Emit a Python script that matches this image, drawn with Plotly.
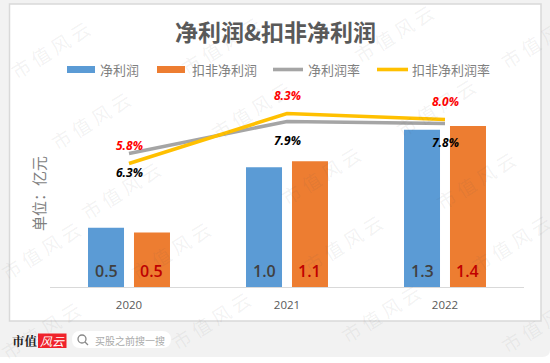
import plotly.graph_objects as go

years = ["2020", "2021", "2022"]
net_profit = [0.49, 0.99, 1.30]
adj_profit = [0.45, 1.04, 1.33]
net_labels = ["0.5", "1.0", "1.3"]
adj_labels = ["0.5", "1.1", "1.4"]
net_margin = [6.3, 7.9, 7.8]
adj_margin = [5.8, 8.3, 8.0]
name_net = "净利润"
name_adj = "扣非净利润"
name_nm = "净利润率"
name_am = "扣非净利润率"
title_text = "净利润&扣非净利润"
axis_title = "单位：亿元"
search_text = "买股之前搜一搜"

BLUE, ORANGE, GRAY, GOLD = "#5b9bd5", "#ed7d31", "#a5a5a5", "#ffc000"
CJK = "Noto Sans CJK SC"
LATIN = "Open Sans, Noto Sans CJK SC"
W, H = 550, 363
ML, MR, MT, MB = 50, 26, 87, 76
PW, PH = W - ML - MR, H - MT - MB
PX = lambda x: (x - ML) / PW
PY = lambda y: (H - MB - y) / PH

fig = go.Figure()
fig.add_bar(x=years, y=net_profit, name=name_net, marker=dict(color=BLUE, line=dict(width=0)), showlegend=False)
fig.add_bar(x=years, y=adj_profit, name=name_adj, marker=dict(color=ORANGE, line=dict(width=0)), showlegend=False)
fig.add_scatter(x=years, y=net_margin, name=name_nm, mode="lines", yaxis="y2", showlegend=False,
                line=dict(color=GRAY, width=3.6))
fig.add_scatter(x=years, y=adj_margin, name=name_am, mode="lines", yaxis="y2", showlegend=False,
                line=dict(color=GOLD, width=3.6))

shapes, ann = [], []


def rect(x0, y0, x1, y1, fill, line=None, lw=0):
    shapes.append(dict(type="rect", xref="paper", yref="paper", x0=PX(x0), x1=PX(x1), y0=PY(y0), y1=PY(y1),
                       fillcolor=fill, line=dict(color=line or fill, width=lw), layer="below"))


def text(x, y, s, size, color, anchor="center", bold=False, angle=0, family=CJK, italic=False):
    t = f"<b>{s}</b>" if bold else s
    t = f"<i>{t}</i>" if italic else t
    ann.append(dict(xref="paper", yref="paper", x=PX(x), y=PY(y), text=t, showarrow=False, xanchor=anchor,
                    yanchor="middle", textangle=angle, font=dict(size=size, color=color, family=family)))


# page background and chart card
shapes.append(dict(type="path", xref="paper", yref="paper", layer="below", fillcolor="#f2f2f2", line=dict(width=0),
                   path=f"M{PX(0)},{PY(0)} L{PX(W)},{PY(0)} L{PX(W)},{PY(350)} Q{PX(W)},{PY(357)} {PX(542)},{PY(357)} "
                        f"L{PX(0)},{PY(357)} Z"))
rect(9.5, 4, 541, 321, "#ffffff", "#d9d9d9", 1.5)

# title and axis title
text(275, 31, title_text, 23, "#595959", bold=True)
text(38, 194, axis_title, 15, "#7f7f7f", angle=-90)

# legend
rect(67, 66, 95, 73, BLUE)
text(98, 69.5, name_net, 13, "#7f7f7f", "left")
rect(157, 66, 185, 73, ORANGE)
text(190, 69.5, name_adj, 13, "#7f7f7f", "left")
for x0, x1, c in [(273, 303, GRAY), (377, 408, GOLD)]:
    shapes.append(dict(type="line", xref="paper", yref="paper", x0=PX(x0), x1=PX(x1), y0=PY(69.5), y1=PY(69.5),
                       line=dict(color=c, width=3.6), layer="below"))
text(306, 69.5, name_nm, 13, "#7f7f7f", "left")
text(410, 69.5, name_am, 13, "#7f7f7f", "left")

# bar labels and rate labels (category axis positions are given by index)
for i in range(len(years)):
    ann.append(dict(x=i, y=0, xref="x", yref="y", yshift=16, xshift=-23, text=net_labels[i], showarrow=False,
                    font=dict(size=16, color="#404040", family=LATIN, weight=600)))
    ann.append(dict(x=i, y=0, xref="x", yref="y", yshift=16, xshift=22, text=adj_labels[i], showarrow=False,
                    font=dict(size=16, color="#c00000", family=LATIN, weight=600)))
    ann.append(dict(x=i, y=adj_margin[i], xref="x", yref="y2", showarrow=False, yshift=18,
                    text=f"<b><i>{adj_margin[i]:.1f}%</i></b>",
                    font=dict(size=12, color="#ff0000", family=LATIN)))
    ann.append(dict(x=i, y=net_margin[i], xref="x", yref="y2", showarrow=False, yshift=-19,
                    text=f"<b><i>{net_margin[i]:.1f}%</i></b>",
                    font=dict(size=12, color="#000000", family=LATIN)))

# footer
text(10, 340.5, "市值", 12.5, "#222222", "left", bold=True, family="Noto Serif CJK SC, Liberation Serif, Noto Sans CJK SC")
rect(38, 333.5, 66.5, 348, "#f0222b")
text(52, 340.5, "风云", 12, "#ffffff", italic=True)
shapes.append(dict(type="path", xref="paper", yref="paper", layer="below", fillcolor="#ffffff", line=dict(width=0),
                   path=f"M{PX(80)},{PY(331)} L{PX(162)},{PY(331)} Q{PX(171)},{PY(331)} {PX(171)},{PY(339.5)} "
                        f"Q{PX(171)},{PY(348)} {PX(162)},{PY(348)} L{PX(80)},{PY(348)} "
                        f"Q{PX(72)},{PY(348)} {PX(72)},{PY(339.5)} Q{PX(72)},{PY(331)} {PX(80)},{PY(331)} Z"))
shapes.append(dict(type="circle", xref="paper", yref="paper", x0=PX(78), x1=PX(86), y0=PY(335), y1=PY(343),
                   line=dict(color="#888888", width=1.3), layer="below"))
shapes.append(dict(type="line", xref="paper", yref="paper", x0=PX(85), x1=PX(88), y0=PY(342), y1=PY(345),
                   line=dict(color="#888888", width=1.3), layer="below"))
text(93, 340, search_text, 10, "#aaaaaa", "left")

# watermark
marks = [(50, 50), (220, 45), (90, 120), (250, 110), (120, 190), (40, 250), (170, 250), (40, 330), (210, 320),
         (342, 243), (510, 243), (380, 313), (540, 323), (393, 33), (435, 107), (320, 175), (475, 180), (540, 40)]
for mx, my in marks:
    text(mx, my, "市 值 风 云", 19, "rgba(90,90,90,0.08)", angle=-32)

fig.update_layout(
    width=W, height=H, autosize=False,
    margin=dict(l=ML, r=MR, t=MT, b=MB),
    paper_bgcolor="#ffffff", plot_bgcolor="rgba(0,0,0,0)",
    barmode="group", bargap=0.418, bargroupgap=0.217,
    xaxis=dict(type="category", showgrid=False, ticks="", showline=True, linecolor="#d9d9d9", linewidth=1,
               tickfont=dict(size=11.5, color="#595959", family=LATIN), ticklabelstandoff=7),
    yaxis=dict(range=[0, 1.653], visible=False, showgrid=False),
    yaxis2=dict(range=[-0.375, 9.625], overlaying="y", visible=False, showgrid=False),
    shapes=shapes, annotations=ann, showlegend=False,
)
fig.write_html("out.html", config={"displayModeBar": False},
               post_script="document.body.style.margin='0';document.documentElement.style.overflow='hidden';")
